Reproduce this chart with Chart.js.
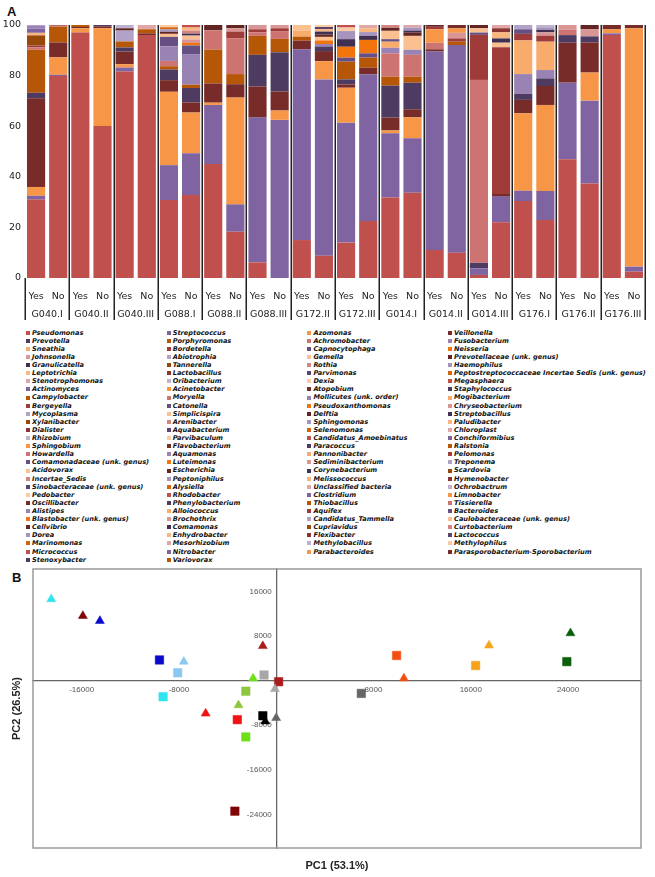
<!DOCTYPE html>
<html>
<head>
<meta charset="utf-8">
<script src="https://cdn.jsdelivr.net/npm/chart.js@4.4.0/dist/chart.umd.min.js"></script>
<style>
  body { margin: 0; background: #fff; width: 655px; height: 877px; position: relative; overflow: hidden; }
  .panel-label { position: absolute; font: bold 13px "Liberation Sans", sans-serif; color: #111; }
  #wrapA { position: absolute; left: 0; top: 0; width: 655px; height: 322px; }
  #wrapB { position: absolute; left: 0; top: 560px; width: 655px; height: 317px; }
  #legend { position: absolute; left: 24px; top: 328.6px; display: grid;
    grid-template-columns: repeat(4, 140.7px); grid-auto-rows: 8.12px;
    font: italic bold 6.6px "DejaVu Sans", sans-serif; color: #111; }
  #legend .item { display: flex; align-items: center; white-space: nowrap; line-height: 8.12px; }
  #legend .box { width: 4px; height: 4px; margin: 0 2px 0 2px; flex: none; }
</style>
</head>
<body>
<div class="panel-label" style="left:7px; top:4px;">A</div>
<div id="wrapA"><canvas id="barChart"></canvas></div>
<div id="legend"></div>
<div class="panel-label" style="left:12px; top:570px;">B</div>
<div id="wrapB"><canvas id="pcaChart"></canvas></div>

<script>
// ---- panel A data ----
const groups = ['G040.I', 'G040.II', 'G040.III', 'G088.I', 'G088.II', 'G088.III', 'G172.II',
  'G172.III', 'G014.I', 'G014.II', 'G014.III', 'G176.I', 'G176.II', 'G176.III'];
const arms = ['Yes', 'No'];
const yTicksA = [0, 20, 40, 60, 80, 100];

// genera in stacking / legend order (legend is read row by row, 4 per row)
const genera = [
  'Pseudomonas', 'Streptococcus', 'Azomonas', 'Veillonella',
  'Prevotella', 'Porphyromonas', 'Achromobacter', 'Fusobacterium',
  'Sneathia', 'Bordetella', 'Capnocytophaga', 'Neisseria',
  'Johnsonella', 'Abiotrophia', 'Gemella', 'Prevotellaceae (unk. genus)',
  'Granulicatella', 'Tannerella', 'Rothia', 'Haemophilus',
  'Leptotrichia', 'Lactobacillus', 'Parvimonas', 'Peptostreptococcaceae Incertae Sedis (unk. genus)',
  'Stenotrophomonas', 'Oribacterium', 'Dexia', 'Megasphaera',
  'Actinomyces', 'Acinetobacter', 'Atopobium', 'Staphylococcus',
  'Campylobacter', 'Moryella', 'Mollicutes (unk. order)', 'Mogibacterium',
  'Bergeyella', 'Catonella', 'Pseudoxanthomonas', 'Chryseobacterium',
  'Mycoplasma', 'Simplicispira', 'Delftia', 'Streptobacillus',
  'Xylanibacter', 'Arenibacter', 'Sphingomonas', 'Paludibacter',
  'Dialister', 'Aquabacterium', 'Selenomonas', 'Chloroplast',
  'Rhizobium', 'Parvibaculum', 'Candidatus_Amoebinatus', 'Conchiformibius',
  'Sphingobium', 'Flavobacterium', 'Paracoccus', 'Ralstonia',
  'Howardella', 'Aquamonas', 'Pannonibacter', 'Pelomonas',
  'Comamonadaceae (unk. genus)', 'Luteimonas', 'Sediminibacterium', 'Treponema',
  'Acidovorax', 'Escherichia', 'Corynebacterium', 'Scardovia',
  'Incertae_Sedis', 'Peptoniphilus', 'Melissococcus', 'Hymenobacter',
  'Sinobacteraceae (unk. genus)', 'Alysiella', 'Unclassified bacteria', 'Ochrobactrum',
  'Pedobacter', 'Rhodobacter', 'Clostridium', 'Limnobacter',
  'Oscillibacter', 'Phenylobacterium', 'Thiobacillus', 'Tissierella',
  'Alistipes', 'Alloiococcus', 'Aquifex', 'Bacteroides',
  'Blastobacter (unk. genus)', 'Brochothrix', 'Candidatus_Tammella', 'Caulobacteraceae (unk. genus)',
  'Cellvibrio', 'Comamonas', 'Cupriavidus', 'Curtobacterium',
  'Dorea', 'Enhydrobacter', 'Flexibacter', 'Lactococcus',
  'Marinomonas', 'Mesorhizobium', 'Methylobacillus', 'Methylophilus',
  'Micrococcus', 'Nitrobacter', 'Parabacteroides', 'Parasporobacterium-Sporobacterium',
  'Stenoxybacter', 'Variovorax'
];

// relative abundance (%) per sample, G040.I Yes, G040.I No, G040.II Yes ...
const pseudomonas    = [31, 79.8, 97, 60.1, 81.6, 96, 30.8, 32.8, 45.1, 18.3, 6.2, 0, 15, 8.8, 14, 22.5, 31.8, 33.7, 11.1, 10, 1.2, 22, 30.4, 22.9, 46.9, 37.4, 96, 2.5];
const streptococcus  = [1.5, 0.5, 0, 0, 1.6, 0, 13.8, 16.5, 23.3, 10.8, 57.2, 62.5, 75.4, 69.7, 47.4, 58, 25.4, 21.5, 78.4, 82.1, 2.6, 10.4, 4.1, 11.5, 30.3, 32.7, 0.7, 2];
const azomonas       = [3.5, 6.9, 1.7, 38.6, 1.3, 0, 29, 16.1, 0.9, 42.2, 0, 3.7, 0, 7.2, 13.8, 0, 1.1, 8.3, 0, 0, 0, 0, 30.6, 34, 0, 11.1, 1.6, 94.2];
const veillonella    = [35, 5.9, 0.5, 0.8, 5, 0.7, 4.6, 4, 7.6, 5.3, 12.3, 7.5, 3.4, 4, 1.3, 2.6, 5.1, 3.2, 0.9, 0, 0, 0.8, 5.3, 7.5, 15.8, 11.9, 1.7, 1.3];
const prevotella     = [2.2, 0, 0, 0.5, 1.6, 0, 4.2, 5.7, 0, 0, 12.5, 15.5, 0, 1.8, 2, 0, 12.6, 10.5, 0, 0, 2.2, 0, 2.4, 3, 3, 2.4, 0, 0];
const porphyromonas  = [17, 6.2, 0.8, 0, 2.4, 1.6, 1.3, 1.3, 13.4, 4, 7.5, 5.3, 1.6, 0, 7, 4, 3.6, 2.4, 0, 1.3, 0, 0, 0, 0, 0, 0, 0, 0];
const achromobacter  = [1, 0.4, 0, 0, 0, 0, 2.1, 0, 7.6, 14.2, 1.4, 2.9, 0, 0, 0, 0, 9.2, 8.6, 2.6, 0, 72.3, 0, 0, 0, 2.2, 0, 0, 0];
const fusobacterium  = [0, 0, 0, 0, 0, 0, 5.8, 11.9, 0, 0, 0, 0, 0, 1, 0, 0, 2.2, 2, 0, 0, 0, 0, 7.8, 3.3, 0, 0, 0, 0];
const sneathia       = [0, 0, 0, 0, 0, 0, 0, 0, 0, 0, 0, 0, 2.4, 0, 0, 0, 2.4, 0, 0, 0, 0, 0, 13.3, 11.2, 0, 0, 0, 0];
const bordetella     = [0.7, 0.3, 0, 0, 0, 0, 0, 0, 0, 2.6, 1.2, 1.3, 0, 0, 0, 0, 0, 0, 0, 1.3, 17.8, 58, 2.6, 2.4, 0, 0, 0, 0];
const capnocytophaga = [0, 0, 0, 0, 0, 0, 3.7, 3.6, 0, 0, 0, 0, 0, 0, 1.6, 1.7, 1, 0, 0, 0, 0.9, 0, 1.8, 0, 0, 0, 0, 0];
const neisseria      = [0, 0, 0, 0, 0, 0, 0, 1, 0, 0, 0, 0, 0, 1.4, 4.3, 5.3, 0, 0, 0, 0, 0, 0, 0, 0, 0, 0, 0, 0];
const johnsonella    = [0, 0, 0, 0, 0, 0, 0, 1.4, 0, 1.3, 1.7, 1.3, 0, 0, 0, 0, 0, 0, 0, 2.2, 0, 0, 0, 1.3, 1.8, 2.8, 0, 0];
const abiotrophia    = [0, 0, 0, 0, 4.3, 0, 0, 0, 0, 0, 0, 0, 0, 0, 0, 0, 0, 0, 0, 0, 0, 0, 1.7, 0, 0, 0, 0, 0];
const gemella        = [0, 0, 0, 0, 0, 0, 1.2, 1.5, 0, 0, 0, 0, 2.2, 1.4, 0, 0, 3.3, 5.5, 0, 0, 1.7, 1.8, 0, 0, 0, 0, 0, 0];
const prevotellaceae = [0, 0, 0, 0, 0.9, 0, 0.8, 0, 2.1, 1.3, 0, 0, 0, 0.9, 0, 0, 1.2, 1.3, 0, 0, 1.3, 0, 0, 0, 0, 1.7, 0, 0];
const granulicatella = [0, 0, 0, 0, 0, 0, 0, 0.8, 0, 0, 0, 0, 0, 1.2, 3, 1.6, 0, 0.8, 0, 0, 0, 1.7, 0, 1, 0, 0, 0, 0];
const tannerella     = [4, 0, 0, 0, 0, 0, 0, 0, 0, 0, 0, 0, 0, 0, 0, 0, 0, 0, 0, 0, 0, 0, 0, 0, 0, 0, 0, 0];
const rothia         = [0, 0, 0, 0, 0, 0, 0, 1.2, 0, 0, 0, 0, 0, 0, 0, 0, 1.1, 0, 0, 0, 0, 0, 0, 0, 0, 0, 0, 0];
const haemophilus    = [0, 0, 0, 0, 0, 0, 1, 0, 0, 0, 0, 0, 0, 0, 3.2, 1.5, 0, 1.2, 0, 0, 0, 0, 0, 1, 0, 0, 0, 0];
const leptotrichia   = [1, 0, 0, 0, 0, 0, 0, 1.2, 0, 0, 0, 0, 0, 1, 0, 1.5, 0, 0, 0, 0, 0, 2.4, 0, 0, 0, 0, 0, 0];
const lactobacillus  = [0, 0, 0, 0, 0, 0, 0, 0, 0, 0, 0, 0, 0, 0, 0, 0, 0, 0, 0, 0, 0, 1.6, 0, 0, 0, 0, 0, 0];
const parvimonas     = [0, 0, 0, 0, 0, 0, 0, 0, 0, 0, 0, 0, 0, 0.8, 0, 0, 0, 0, 0, 0, 0, 0, 0, 0, 0, 0, 0, 0];
const peptostrep     = [0, 0, 0, 0, 0, 0, 0.8, 0, 0, 0, 0, 0, 0, 0, 0, 0, 0, 0, 0, 0, 0, 0, 0, 0, 0, 0, 0, 0];
const stenotrophomonas = [0, 0, 0, 0, 0, 1.7, 0, 0, 0, 0, 0, 0, 0, 0, 0, 1.3, 0, 1, 0, 0, 0, 1.3, 0, 0, 0, 0, 0, 0];
const oribacterium   = [0, 0, 0, 0, 1.3, 0, 0, 0, 0, 0, 0, 0, 0, 0, 0, 0, 0, 0, 0, 0, 0, 0, 0, 0.9, 0, 0, 0, 0];
const dexia          = [0, 0, 0, 0, 0, 0, 0.9, 0, 0, 0, 0, 0, 0, 0.8, 1.4, 0, 0, 0, 0, 0, 0, 0, 0, 0, 0, 0, 0, 0];
const megasphaera    = [0, 0, 0, 0, 0, 0, 0, 1, 0, 0, 0, 0, 0, 0, 1, 0, 0, 0, 0, 0, 0, 0, 0, 0, 0, 0, 0, 0];
const actinomyces    = [1.7, 0, 0, 0, 0, 0, 0, 0, 0, 0, 0, 0, 0, 0, 0, 0, 0, 0, 0, 0, 0, 0, 0, 0, 0, 0, 0, 0];
const acinetobacter  = [0, 0, 0, 0, 0, 0, 0, 0, 0, 0, 0, 0, 0, 0, 0, 0, 0, 0, 5.3, 1.8, 0, 0, 0, 0, 0, 0, 0, 0];
const atopobium      = [0, 0, 0, 0, 0, 0, 0, 0, 0, 0, 0, 0, 0, 0, 0, 0, 0, 0, 0, 1.3, 0, 0, 0, 0, 0, 0, 0, 0];
const mollicutes     = [1.3, 0, 0, 0, 0, 0, 0, 0, 0, 0, 0, 0, 0, 0, 0, 0, 0, 0, 0, 0, 0, 0, 0, 0, 0, 0, 0, 0];
const bergeyella     = [0, 0, 0, 0, 0, 0, 0, 0, 0, 0, 0, 0, 0, 0, 0, 0, 0, 0, 1, 0, 0, 0, 0, 0, 0, 0, 0, 0];
const delftia        = [0, 0, 0, 0, 0, 0, 0, 0, 0, 0, 0, 0, 0, 0, 0, 0, 0, 0, 0.7, 0, 0, 0, 0, 0, 0, 0, 0, 0];

// ---- panel B data (PCA scores) ----
const pcXTicks = [-16000, -8000, 8000, 16000, 24000];
const pcYTicks = [16000, 8000, -8000, -16000, -24000];
const triX = [-18500, -15900, -14500, -7600, -5800, -3100, -1900, -1100, -100, -900, 0, 10500, 17500, 24200];
const triY = [14600, 11600, 10700, 3400, -5900, -4400, 400, 6200, -1500, -7300, -6700, 400, 6300, 8500];
const sqX  = [-9300, -3400, -9600, -8100, -3200, -2500, -2500, 200, -1000, -1100, 7000, 9900, 16400, 23900];
const sqY  = [-2900, -23400, 3700, 1400, -7000, -1900, -10100, -200, 1000, -6300, -2300, 4500, 2700, 3400];
const pcaColors = ['#2ee4ee', '#7f0606', '#0a0acc', '#8ac8f2', '#f01212', '#8dc63c', '#6ee018',
  '#a81c1c', '#a8a8a8', '#000000', '#666666', '#f24e12', '#f7a21b', '#0b5e0b'];

const abundance = {
  'Pseudomonas': pseudomonas, 'Streptococcus': streptococcus, 'Azomonas': azomonas,
  'Veillonella': veillonella, 'Prevotella': prevotella, 'Porphyromonas': porphyromonas,
  'Achromobacter': achromobacter, 'Fusobacterium': fusobacterium, 'Sneathia': sneathia,
  'Bordetella': bordetella, 'Capnocytophaga': capnocytophaga, 'Neisseria': neisseria,
  'Johnsonella': johnsonella, 'Abiotrophia': abiotrophia, 'Gemella': gemella,
  'Prevotellaceae (unk. genus)': prevotellaceae, 'Granulicatella': granulicatella,
  'Tannerella': tannerella, 'Rothia': rothia, 'Haemophilus': haemophilus,
  'Leptotrichia': leptotrichia, 'Lactobacillus': lactobacillus, 'Parvimonas': parvimonas,
  'Peptostreptococcaceae Incertae Sedis (unk. genus)': peptostrep,
  'Stenotrophomonas': stenotrophomonas, 'Oribacterium': oribacterium, 'Dexia': dexia,
  'Megasphaera': megasphaera, 'Actinomyces': actinomyces, 'Acinetobacter': acinetobacter,
  'Atopobium': atopobium, 'Mollicutes (unk. order)': mollicutes, 'Bergeyella': bergeyella,
  'Delftia': delftia
};

// Excel-like series colours: 3 hues, shaded in turn
const baseHues = ['#C0504D', '#8064A2', '#F79646'];
const shadeSteps = [[1, 0], [0.6, 0], [0.8, 0.2], [0.8, 0], [0.6, 0.4], [0.5, 0], [0.7, 0.3], [0.7, 0], [0.5, 0.5]];

function seriesColor(i) {
  const hex = baseHues[i % 3];
  const [mod, off] = shadeSteps[Math.floor(i / 3) % shadeSteps.length];
  let r = parseInt(hex.slice(1, 3), 16) / 255, g = parseInt(hex.slice(3, 5), 16) / 255, b = parseInt(hex.slice(5, 7), 16) / 255;
  const max = Math.max(r, g, b), min = Math.min(r, g, b);
  let h = 0, s = 0, l = (max + min) / 2;
  const d = max - min;
  if (d) {
    s = d / (1 - Math.abs(2 * l - 1));
    if (max === r) h = ((g - b) / d) % 6;
    else if (max === g) h = (b - r) / d + 2;
    else h = (r - g) / d + 4;
    h *= 60;
    if (h < 0) h += 360;
  }
  l = Math.min(1, l * mod + off);
  const c = (1 - Math.abs(2 * l - 1)) * s;
  const x = c * (1 - Math.abs((h / 60) % 2 - 1));
  const m = l - c / 2;
  let rgb;
  if (h < 60) rgb = [c, x, 0];
  else if (h < 120) rgb = [x, c, 0];
  else if (h < 180) rgb = [0, c, x];
  else if (h < 240) rgb = [0, x, c];
  else if (h < 300) rgb = [x, 0, c];
  else rgb = [c, 0, x];
  return 'rgb(' + rgb.map(v => Math.round((v + m) * 255)).join(',') + ')';
}

const sampleLabels = groups.flatMap(() => arms);
const zeros = sampleLabels.map(() => 0);

// group separators drawn from the x scale
const groupLines = {
  id: 'groupLines',
  afterDraw(chart) {
    const { ctx, chartArea } = chart;
    const x = chart.scales.x;
    const pitch = x.getPixelForValue(1) - x.getPixelForValue(0);
    ctx.save();
    ctx.strokeStyle = '#222';
    ctx.lineWidth = 1.5;
    for (let g = 0; g <= groups.length; g++) {
      const px = Math.round(x.getPixelForValue(0) + (2 * g - 0.5) * pitch) + 0.25;
      ctx.beginPath();
      ctx.moveTo(px, g === 0 ? chartArea.bottom : chartArea.top);
      ctx.lineTo(px, chart.height - 2);
      ctx.stroke();
    }
    ctx.restore();
  }
};

const axisFont = { family: 'DejaVu Sans', size: 9.5 };
const noGrid = { display: false, drawTicks: false };

const barChart = new Chart(document.getElementById('barChart'), {
  type: 'bar',
  data: {
    labels: sampleLabels,
    datasets: genera.map((name, i) => ({
      label: name,
      data: abundance[name] || zeros,
      backgroundColor: seriesColor(i),
      borderWidth: 0,
      barPercentage: 0.82,
      categoryPercentage: 1
    }))
  },
  options: {
    responsive: true,
    maintainAspectRatio: false,
    animation: false,
    layout: { padding: { top: 25, right: 10, left: 0, bottom: 0 } },
    plugins: { legend: { display: false }, tooltip: { enabled: false } },
    scales: {
      x: {
        stacked: true,
        offset: true,
        weight: 0,
        grid: noGrid,
        border: { display: false },
        ticks: { font: axisFont, color: '#222', padding: 13, autoSkip: false, maxRotation: 0 },
        afterFit: s => { s.height = 28; }
      },
      x2: {
        type: 'category',
        labels: groups,
        position: 'bottom',
        weight: 1,
        offset: true,
        grid: noGrid,
        border: { display: false },
        ticks: { font: axisFont, color: '#222', padding: 3, autoSkip: false, maxRotation: 0 },
        afterFit: s => { s.height = 16; }
      },
      y: {
        stacked: true,
        min: 0,
        max: 100,
        grid: noGrid,
        border: { display: false },
        afterBuildTicks: s => { s.ticks = yTicksA.map(v => ({ value: v })); },
        ticks: { font: axisFont, color: '#222', padding: 4 },
        afterFit: s => { s.width = 25; }
      }
    }
  },
  plugins: [groupLines]
});

// four-column legend, filled row by row like the original
const legendEl = document.getElementById('legend');
barChart.data.datasets.forEach(ds => {
  const item = document.createElement('div');
  item.className = 'item';
  const box = document.createElement('span');
  box.className = 'box';
  box.style.background = ds.backgroundColor;
  const txt = document.createElement('span');
  txt.textContent = ds.label;
  item.appendChild(box);
  item.appendChild(txt);
  legendEl.appendChild(item);
});

// ---- panel B ----
const frame = {
  id: 'frame',
  beforeDatasetsDraw(chart) {
    const { ctx, chartArea: a } = chart;
    ctx.save();
    ctx.strokeStyle = '#9a9a9a';
    ctx.lineWidth = 1.5;
    ctx.strokeRect(a.left, a.top, a.right - a.left, a.bottom - a.top);
    ctx.restore();
  }
};

const tickFont = { family: 'Liberation Sans', size: 8 };
const titleFont = { family: 'Liberation Sans', size: 11, weight: 'bold' };

new Chart(document.getElementById('pcaChart'), {
  type: 'scatter',
  data: {
    datasets: [
      {
        label: 'triangles',
        data: triX.map((x, i) => ({ x, y: triY[i] })),
        pointStyle: 'triangle',
        pointRadius: 5.2,
        pointBackgroundColor: pcaColors,
        pointBorderColor: pcaColors,
        pointBorderWidth: 0.5
      },
      {
        label: 'squares',
        data: sqX.map((x, i) => ({ x, y: sqY[i] })),
        pointStyle: 'rect',
        pointRadius: 6,
        pointBackgroundColor: pcaColors,
        pointBorderColor: pcaColors,
        pointBorderWidth: 0.5
      }
    ]
  },
  options: {
    responsive: true,
    maintainAspectRatio: false,
    animation: false,
    layout: { padding: { top: 9, right: 14, left: 0, bottom: 0 } },
    plugins: { legend: { display: false }, tooltip: { enabled: false } },
    scales: {
      x: {
        type: 'linear',
        min: -20000,
        max: 30000,
        position: { y: 0 },
        grid: noGrid,
        border: { color: '#666', width: 1.3 },
        afterBuildTicks: s => { s.ticks = pcXTicks.map(v => ({ value: v })); },
        ticks: { font: tickFont, color: '#555', padding: 4, callback: v => String(v) }
      },
      y: {
        type: 'linear',
        min: -30000,
        max: 20000,
        position: { x: 0 },
        grid: noGrid,
        border: { color: '#666', width: 1.3 },
        afterBuildTicks: s => { s.ticks = pcYTicks.map(v => ({ value: v })); },
        // labels sit just left of the vertical zero line
        ticks: { font: tickFont, color: '#555', callback: v => v + '  ' }
      },
      xTitle: {
        type: 'linear',
        position: 'bottom',
        grid: noGrid,
        border: { display: false },
        ticks: { display: false },
        title: { display: true, text: 'PC1 (53.1%)', font: titleFont, color: '#222', padding: { top: 0, bottom: 4.4 } },
        afterFit: s => { s.height = 29; }
      },
      yTitle: {
        type: 'linear',
        position: 'left',
        grid: noGrid,
        border: { display: false },
        ticks: { display: false },
        title: { display: true, text: 'PC2 (26.5%)', font: titleFont, color: '#222', padding: { top: 10.4, bottom: 0 } },
        afterFit: s => { s.width = 33; }
      }
    }
  },
  plugins: [frame]
});
</script>
</body>
</html>
